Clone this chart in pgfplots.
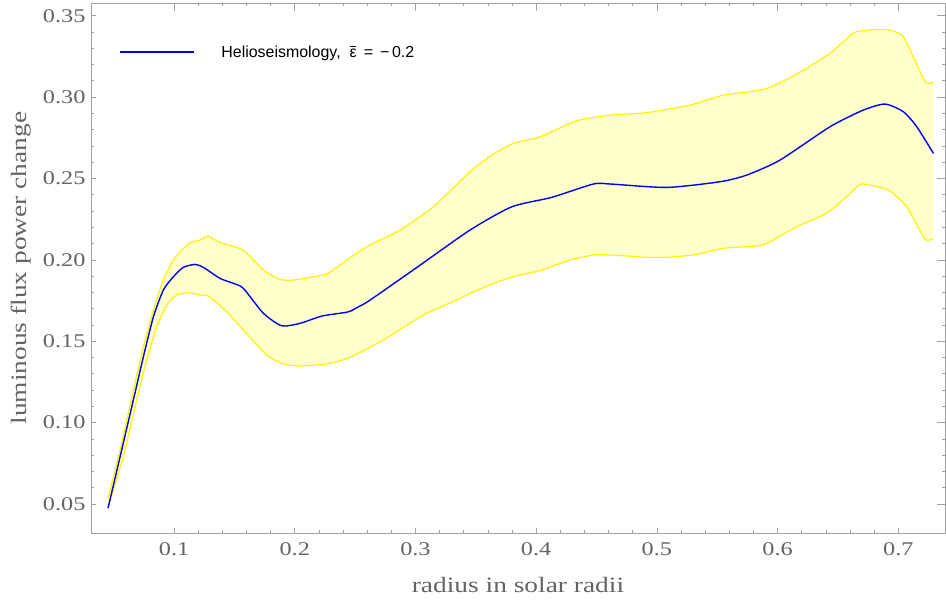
\documentclass[border=0pt]{standalone}
\usepackage{pgfplots}
\pgfplotsset{compat=1.18}
\usepgfplotslibrary{fillbetween}
\usepackage{fontspec}
\setmainfont{Liberation Serif}[FakeStretch=1.25]
\newfontfamily\legfont{Liberation Sans}
\definecolor{framegray}{RGB}{160,160,160}
\definecolor{labgray}{RGB}{100,100,100}
\definecolor{bandfill}{RGB}{255,255,204}
\definecolor{bandline}{RGB}{255,242,0}
\definecolor{mblue}{RGB}{0,0,245}
\newcommand{\epsbar}{\ooalign{ε\cr\hidewidth\raisebox{0.62em}{\rule{0.42em}{0.065em}}\hidewidth\cr}}
\begin{document}
\begin{tikzpicture}
\begin{axis}[
  scale only axis, width=854bp, height=530bp,
  xmin=0.0312, xmax=0.7387, ymin=0.0322, ymax=0.3578,
  axis line style={framegray, line width=0.9pt},
  every tick/.style={framegray, line width=0.7pt},
  xtick={0.1,0.2,0.3,0.4,0.5,0.6,0.7},
  ytick={0.05,0.10,0.15,0.20,0.25,0.30,0.35},
  minor tick num=4,
  xtick pos=bottom, ytick pos=left,
  major tick length=4.5bp, minor tick length=2.5bp,
  tick align=inside,
  /pgf/number format/assume math mode=true,
  ticklabel style={font=\fontsize{19.5}{21}\selectfont, text=labgray},
  xticklabel style={yshift=-6bp, /pgf/number format/.cd, fixed, fixed zerofill, precision=1},
  yticklabel style={xshift=-2bp, /pgf/number format/.cd, fixed, fixed zerofill, precision=2},
  scaled ticks=false,
  xlabel={radius in solar radii},
  ylabel={luminous flux power change},
  xlabel shift=15bp, ylabel shift=5bp,
  label style={font=\fontsize{22}{24}\selectfont, text=labgray},
  legend style={draw=none, fill=none, at={(0.0328,0.9075)}, anchor=west,
    inner sep=0pt, outer sep=0pt, nodes={inner sep=0pt, font=\legfont\fontsize{16}{18}\selectfont, text=black},
    column sep=27bp},
  legend image code/.code={\draw[#1] (0bp,0bp) -- (74bp,0bp);},
]
\addplot[name path=upper, bandline, line width=1.2pt, smooth, tension=0.3, forget plot] coordinates {
(0.0453,0.0535) (0.0553,0.0832) (0.0663,0.1200) (0.0746,0.1466) (0.0829,0.1692)
(0.0911,0.1876) (0.0994,0.1999) (0.1064,0.2060) (0.1133,0.2105) (0.1215,0.2122)
(0.1284,0.2146) (0.1367,0.2111) (0.1574,0.2060)
(0.1740,0.1937) (0.1878,0.1880) (0.1988,0.1876) (0.2265,0.1913) (0.2431,0.1999)
(0.2597,0.2081) (0.2872,0.2183) (0.3148,0.2326) (0.3452,0.2541) (0.3632,0.2644)
(0.3811,0.2716) (0.4032,0.2756) (0.4336,0.2855) (0.4612,0.2889) (0.4916,0.2904)
(0.5275,0.2951) (0.5551,0.3012) (0.5828,0.3039) (0.5938,0.3060) (0.6159,0.3141)
(0.6435,0.3268) (0.6628,0.3394) (0.6739,0.3411) (0.6905,0.3415) (0.7042,0.3370)
(0.7222,0.3094) (0.7291,0.3094)
};
\addplot[name path=lower, bandline, line width=1.2pt, smooth, tension=0.3, forget plot] coordinates {
(0.0453,0.0480) (0.0580,0.0790) (0.0691,0.1139) (0.0774,0.1385) (0.0857,0.1589)
(0.0940,0.1722) (0.1022,0.1784) (0.1118,0.1798) (0.1215,0.1784) (0.1290,0.1776)
(0.1437,0.1681) (0.1574,0.1569) (0.1768,0.1415)
(0.1906,0.1360) (0.2044,0.1348) (0.2265,0.1360) (0.2458,0.1401) (0.2734,0.1507)
(0.3065,0.1661) (0.3342,0.1753) (0.3452,0.1794) (0.3646,0.1855) (0.3811,0.1897)
(0.4032,0.1934) (0.4281,0.1999) (0.4474,0.2030) (0.4612,0.2030) (0.4916,0.2016)
(0.5082,0.2016) (0.5302,0.2030) (0.5551,0.2071) (0.5828,0.2085) (0.5910,0.2101)
(0.6159,0.2204) (0.6407,0.2286) (0.6573,0.2388) (0.6697,0.2466) (0.6918,0.2429)
(0.7070,0.2326) (0.7222,0.2126) (0.7291,0.2132)
};
\addplot[bandfill, forget plot] fill between[of=upper and lower];
\addplot[mblue, line width=1.4pt, smooth, tension=0.4] coordinates {
(0.0453,0.0475) (0.0553,0.0790) (0.0663,0.1139) (0.0746,0.1405) (0.0829,0.1650)
(0.0911,0.1814) (0.0994,0.1896) (0.1077,0.1954) (0.1174,0.1972) (0.1243,0.1954)
(0.1381,0.1886) (0.1491,0.1856) (0.1574,0.1825) (0.1740,0.1672) (0.1892,0.1595)
(0.2044,0.1610) (0.2226,0.1655) (0.2440,0.1680) (0.2524,0.1710) (0.2624,0.1753)
(0.3005,0.1950) (0.3452,0.2183) (0.3798,0.2326) (0.4129,0.2384) (0.4474,0.2466)
(0.4612,0.2466) (0.5082,0.2445) (0.5524,0.2480) (0.5745,0.2521) (0.6020,0.2613)
(0.6435,0.2818) (0.6710,0.2920) (0.6890,0.2957) (0.7042,0.2910) (0.7153,0.2818)
(0.7291,0.2654)
};
\addlegendentry{Helioseismology,\ \ \epsbar\ \,=\, −\,0.2}
\end{axis}
\begin{axis}[
  scale only axis, width=854bp, height=530bp,
  xmin=0.0312, xmax=0.7387, ymin=0.0322, ymax=0.3578,
  axis line style={framegray, line width=0.9pt},
  every tick/.style={framegray, line width=0.7pt},
  xtick={0.1,0.2,0.3,0.4,0.5,0.6,0.7},
  ytick={0.05,0.10,0.15,0.20,0.25,0.30,0.35},
  minor tick num=4,
  xtick pos=top, ytick pos=right,
  major tick length=8bp, minor tick length=3.5bp,
  tick align=inside,
  xticklabels={}, yticklabels={},
]
\end{axis}
\pgfresetboundingbox
\path[use as bounding box] (-91bp,-68bp) rectangle (855bp,533bp);
\end{tikzpicture}
\end{document}
